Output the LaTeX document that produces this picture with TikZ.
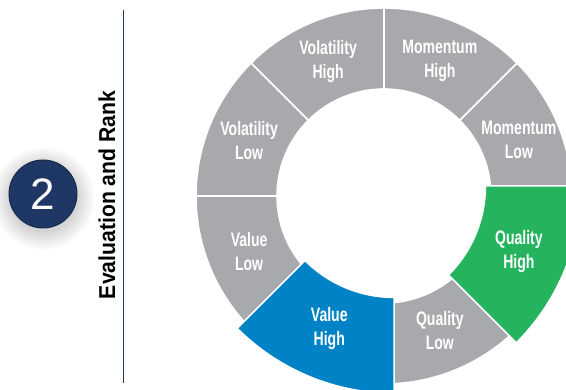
\documentclass[tikz,border=0pt]{standalone}
\usepackage{fontspec}
\setmainfont{Liberation Sans}
\newfontfamily\narrowfont{Liberation Sans}[FakeStretch=0.72]
\newfontfamily\titlefont{Liberation Sans}[FakeStretch=0.92]
\usetikzlibrary{positioning,calc}
\definecolor{ringgray}{HTML}{A7A9AC}
\definecolor{valueblue}{HTML}{0083C6}
\definecolor{qualgreen}{HTML}{25B35E}
\definecolor{navy}{HTML}{1F3764}
\pgfdeclareradialshading{glow}{\pgfpoint{0bp}{0bp}}{color(0bp)=(black!17); color(16bp)=(black!17); color(25bp)=(white); color(50bp)=(white)}

\begin{document}
\begin{tikzpicture}[x=1pt, y=1pt,
  seg/.style={draw=white, line width=1.6pt},
  lbl/.style={text=white, align=center, font=\narrowfont\bfseries\fontsize{19.5}{24}\selectfont}]
  \clip (0,0) rectangle (566,390);
  \fill[white] (0,0) rectangle (566,390);
  % step badge and title
  \shade[shading=glow] (43,192) circle (52);
  \node[circle, fill=navy, draw=navy!80!black, line width=1pt, minimum size=68, inner sep=0pt, text=white, font=\fontsize{44}{44}\selectfont] (badge) at (43,196) {2};
  \node[rotate=90, font=\titlefont\bfseries\fontsize{23}{26}\selectfont] (title) at (107,195) {Evaluation and Rank};
  \coordinate (ruletop) at (123,380);
  \coordinate (rulebot) at (123,7);
  \draw[navy, line width=1pt] (ruletop) -- (rulebot);
  % ring
  \coordinate (ctr) at (384,194);
  \foreach \a/\nm/\txt in {0/momlow/{Momentum\\Low}, 45/momhigh/{Momentum\\High}, 90/volhigh/{Volatility\\High},
      135/vollow/{Volatility\\Low}, 180/vallow/{Value\\Low}, 270/quallow/{Quality\\Low}} {
    \draw[seg, fill=ringgray] ([shift={(\a:107)}]ctr) arc[start angle=\a, end angle=\a+45, radius=107]
      -- ([shift={(\a+45:188)}]ctr) arc[start angle=\a+45, end angle=\a, radius=188] -- cycle;
    \node[lbl] (\nm) at ([shift={(\a+22.5:146)}]ctr) {\txt};
  }
  % highlighted segments, enlarged
  \coordinate (bctr) at ($(ctr)+(67.5:26.6)$);
  \coordinate (gctr) at ($(ctr)+(157.5:26.6)$);
  \draw[seg, fill=valueblue] ([shift={(225:126)}]bctr) arc[start angle=225, end angle=270, radius=126]
    -- ([shift={(270:222)}]bctr) arc[start angle=270, end angle=225, radius=222] -- cycle;
  \draw[seg, fill=qualgreen] ([shift={(315:126)}]gctr) arc[start angle=315, end angle=360, radius=126]
    -- ([shift={(360:222)}]gctr) arc[start angle=360, end angle=315, radius=222] -- cycle;
  \node[lbl] (valhigh) at ([shift={(247.5:143)}]ctr) {Value\\High};
  \node[lbl] (qualhigh) at ([shift={(337.5:146)}]ctr) {Quality\\High};
\end{tikzpicture}
\end{document}
